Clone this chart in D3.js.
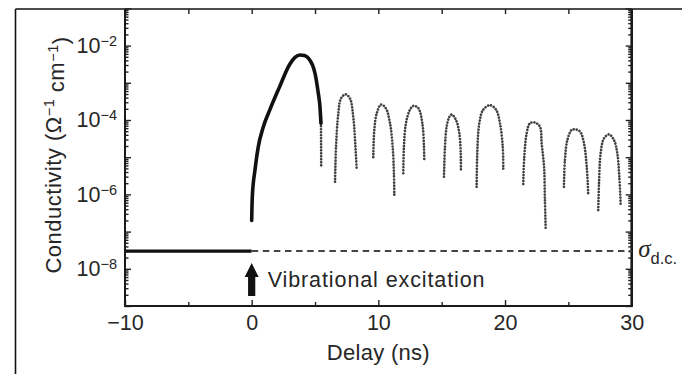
<!DOCTYPE html>
<html><head><meta charset="utf-8">
<script src="https://cdn.jsdelivr.net/npm/d3@7"></script>
<style>
body{margin:0;background:#fff}
svg{display:block}
text{font-family:"Liberation Sans",Arial,Helvetica,sans-serif;fill:#262626}
</style>
</head><body>
<svg id="chart" width="682" height="374"></svg>
<script>
// ---------- data ----------
const xMajorTicks = [-10, 0, 10, 20, 30];
const xMinorTicks = [-5, 5, 15, 25];
const yLabelExponents = [-2, -4, -6, -8];
const sigmaDC = 3.0e-8;

// main (solid) transient after excitation
const mainDelay = [0.00, 0.05, 0.26, 0.52, 0.89, 1.44, 2.16, 3.02, 3.42, 3.81, 4.17, 4.47, 5.00, 5.26, 5.39, 5.47];
const mainCond  = [2.0e-7, 8.7e-7, 4.5e-6, 1.9e-5, 6.1e-5, 1.9e-4, 7.2e-4, 3.2e-3, 4.8e-3, 5.6e-3, 5.4e-3, 4.6e-3, 1.8e-3, 5.2e-4, 2.3e-4, 8.2e-5];
// dotted tail of the main transient
const tailDelay = [5.47, 5.49];
const tailCond  = [8.2e-5, 5.5e-6];

// dotted oscillation arches
const archDelay = [
  [6.58, 6.66, 6.84, 7.05, 7.42, 7.76, 8.02, 8.16, 8.29],
  [9.60, 9.68, 9.87, 10.21, 10.58, 10.92, 11.13, 11.23, 11.26],
  [11.97, 12.02, 12.18, 12.50, 12.76, 13.15, 13.47, 13.60, 13.63],
  [15.18, 15.26, 15.39, 15.60, 15.79, 16.13, 16.39, 16.50, 16.52],
  [17.76, 17.81, 17.97, 18.28, 18.81, 19.29, 19.60, 19.82, 19.86],
  [21.44, 21.52, 21.71, 21.97, 22.37, 22.76, 22.89, 23.08, 23.15, 23.21],
  [24.65, 24.73, 24.92, 25.26, 25.52, 25.92, 26.23, 26.45, 26.57],
  [27.36, 27.42, 27.55, 27.81, 28.21, 28.60, 28.86, 29.02, 29.13]
];
const archCond = [
  [2.2e-6, 1.9e-5, 1.5e-4, 3.8e-4, 4.9e-4, 3.8e-4, 1.2e-4, 2.9e-5, 4.5e-6],
  [1.0e-5, 5.4e-5, 1.5e-4, 2.6e-4, 2.1e-4, 8.2e-5, 1.9e-5, 3.7e-6, 8.7e-7],
  [3.7e-6, 1.9e-5, 8.2e-5, 1.9e-4, 2.4e-4, 2.1e-4, 8.2e-5, 1.9e-5, 7.6e-6],
  [3.0e-6, 1.9e-5, 6.6e-5, 1.2e-4, 1.4e-4, 1.0e-4, 4.4e-5, 1.3e-5, 4.7e-6],
  [1.6e-6, 1.3e-5, 8.2e-5, 1.9e-4, 2.5e-4, 1.9e-4, 8.2e-5, 1.9e-5, 4.7e-6],
  [1.9e-6, 1.0e-5, 4.4e-5, 8.2e-5, 8.5e-5, 6.6e-5, 2.4e-5, 5.5e-6, 7.1e-7, 1.1e-7],
  [1.6e-6, 8.4e-6, 2.9e-5, 5.4e-5, 5.6e-5, 4.9e-5, 2.4e-5, 5.5e-6, 9.6e-7],
  [3.8e-7, 2.0e-6, 1.3e-5, 3.2e-5, 4.1e-5, 2.9e-5, 1.3e-5, 3.0e-6, 5.2e-7]
];

// ---------- layout ----------
const L = 125, R = 631.7, T = 8.4, B = 306;
const svg = d3.select("#chart");

const x = d3.scaleLinear().domain([-10, 30]).range([L, R]);
const y = d3.scaleLog().domain([1e-9, 1e-1]).range([B, T]);

// figure frame (top and left border)
svg.append("line").attr("x1", 15.5).attr("x2", 682).attr("y1", 9).attr("y2", 9)
  .attr("stroke", "#111").attr("stroke-width", 1.6);
svg.append("line").attr("x1", 15.5).attr("x2", 15.5).attr("y1", 9).attr("y2", 374)
  .attr("stroke", "#111").attr("stroke-width", 1.6);

// tick value sets for log axis
const decades = d3.range(-9, 0).map(e => Math.pow(10, e));
const minorLog = [];
d3.range(-9, -1).forEach(e => { for (let m = 2; m <= 9; m++) minorLog.push(m * Math.pow(10, e)); });

function styleAxis(g) {
  g.select(".domain").remove();
  g.selectAll(".tick line").attr("stroke", "#222").attr("stroke-width", 1.4);
}

// bottom axis
const gx = svg.append("g").attr("transform", `translate(0,${B})`)
  .call(d3.axisBottom(x).tickValues(xMajorTicks).tickSize(-6).tickSizeOuter(0).tickPadding(9));
styleAxis(gx);
gx.selectAll(".tick text").attr("font-size", 21.5).attr("fill", "#262626")
  .attr("font-family", "Liberation Sans, Arial, sans-serif");
svg.append("g").attr("transform", `translate(0,${B})`)
  .call(d3.axisBottom(x).tickValues(xMinorTicks).tickSize(-4).tickSizeOuter(0).tickFormat(""))
  .call(styleAxis);

// top axis
svg.append("g").attr("transform", `translate(0,${9})`)
  .call(d3.axisTop(x).tickValues(xMajorTicks.concat(xMinorTicks)).tickSize(-5).tickSizeOuter(0).tickFormat(""))
  .call(styleAxis);

// left axis
const gy = svg.append("g").attr("transform", `translate(${L},0)`)
  .call(d3.axisLeft(y).tickValues(decades).tickSize(-6).tickSizeOuter(0).tickPadding(8).tickFormat(""));
styleAxis(gy);
gy.selectAll(".tick text").each(function(d) {
  const e = Math.round(Math.log10(d));
  if (!yLabelExponents.includes(e)) return;
  const t = d3.select(this).attr("font-size", 21.5).attr("fill", "#262626")
    .attr("font-family", "Liberation Sans, Arial, sans-serif");
  t.append("tspan").text("10");
  t.append("tspan").attr("dy", "-0.5em").attr("font-size", 14.5).text("\u2212" + Math.abs(e));
});
svg.append("g").attr("transform", `translate(${L},0)`)
  .call(d3.axisLeft(y).tickValues(minorLog).tickSize(-3.5).tickSizeOuter(0).tickFormat(""))
  .call(styleAxis);

// right axis
svg.append("g").attr("transform", `translate(${R},0)`)
  .call(d3.axisRight(y).tickValues(decades).tickSize(-6).tickSizeOuter(0).tickFormat(""))
  .call(styleAxis);
svg.append("g").attr("transform", `translate(${R},0)`)
  .call(d3.axisRight(y).tickValues(minorLog).tickSize(-3.5).tickSizeOuter(0).tickFormat(""))
  .call(styleAxis);

// spines
svg.append("line").attr("x1", L).attr("x2", L).attr("y1", 9).attr("y2", B)
  .attr("stroke", "#1a1a1a").attr("stroke-width", 2);
svg.append("line").attr("x1", R).attr("x2", R).attr("y1", 9).attr("y2", B)
  .attr("stroke", "#1a1a1a").attr("stroke-width", 2.6);
svg.append("line").attr("x1", L - 1).attr("x2", R + 1.3).attr("y1", B).attr("y2", B)
  .attr("stroke", "#1a1a1a").attr("stroke-width", 2);

// sigma d.c. baseline
svg.append("line").attr("x1", x(-10)).attr("x2", x(0)).attr("y1", y(sigmaDC)).attr("y2", y(sigmaDC))
  .attr("stroke", "#111").attr("stroke-width", 3.2);
svg.append("line").attr("x1", x(0)).attr("x2", x(30)).attr("y1", y(sigmaDC)).attr("y2", y(sigmaDC))
  .attr("stroke", "#444").attr("stroke-width", 1.9).attr("stroke-dasharray", "6.5 4.6");

// curves
const line = d3.line().x(d => x(d[0])).y(d => y(d[1])).curve(d3.curveCatmullRom.alpha(0.5));
const mainLine = d3.line().x(d => x(d[0])).y(d => y(d[1])).curve(d3.curveMonotoneX);

svg.append("path").datum(tailDelay.map((t, i) => [t, tailCond[i]]))
  .attr("d", line).attr("fill", "none").attr("stroke", "#3c3c3c")
  .attr("stroke-width", 2.7).attr("stroke-linecap", "round").attr("stroke-dasharray", "0.01 3");

archDelay.forEach((ds, k) => {
  svg.append("path").datum(ds.map((t, i) => [t, archCond[k][i]]))
    .attr("d", line).attr("fill", "none").attr("stroke", "#404040")
    .attr("stroke-width", 2.7).attr("stroke-linecap", "round").attr("stroke-dasharray", "0.01 3");
});

svg.append("path").datum(mainDelay.map((t, i) => [t, mainCond[i]]))
  .attr("d", mainLine).attr("fill", "none").attr("stroke", "#111")
  .attr("stroke-width", 3.6).attr("stroke-linecap", "round");

// excitation arrow
const ax = x(0);
svg.append("path")
  .attr("d", `M${ax},${B - 43} L${ax + 7},${B - 29} L${ax + 3.6},${B - 29} L${ax + 3.6},${B - 10} L${ax - 3.6},${B - 10} L${ax - 3.6},${B - 29} L${ax - 7},${B - 29} Z`)
  .attr("fill", "#111");
svg.append("text").attr("x", ax + 16).attr("y", B - 19.5).attr("font-size", 21.5)
  .attr("letter-spacing", 0.9).text("Vibrational excitation");

// axis titles
svg.append("text").attr("x", (L + R) / 2).attr("y", 360).attr("text-anchor", "middle")
  .attr("font-size", 22).attr("letter-spacing", 0.3).text("Delay (ns)");

const yt = svg.append("text").attr("transform", "translate(61,155) rotate(-90)")
  .attr("text-anchor", "middle").attr("font-size", 22).attr("letter-spacing", 0.5);
yt.append("tspan").text("Conductivity (\u03A9");
yt.append("tspan").attr("dy", "-0.45em").attr("font-size", 14.5).text("\u22121");
yt.append("tspan").attr("dy", "0.45em").text(" cm");
yt.append("tspan").attr("dy", "-0.45em").attr("font-size", 14.5).text("\u22121");
yt.append("tspan").attr("dy", "0.45em").text(")");

// sigma d.c. label
const sl = svg.append("text").attr("x", R + 6.5).attr("y", y(sigmaDC) + 6);
sl.append("tspan").attr("font-family", "Liberation Serif, Times New Roman, serif")
  .attr("font-style", "italic").attr("font-size", 25).text("\u03C3");
sl.append("tspan").attr("dy", 7).attr("font-size", 16.5).text("d.c.");
</script>
</body></html>
